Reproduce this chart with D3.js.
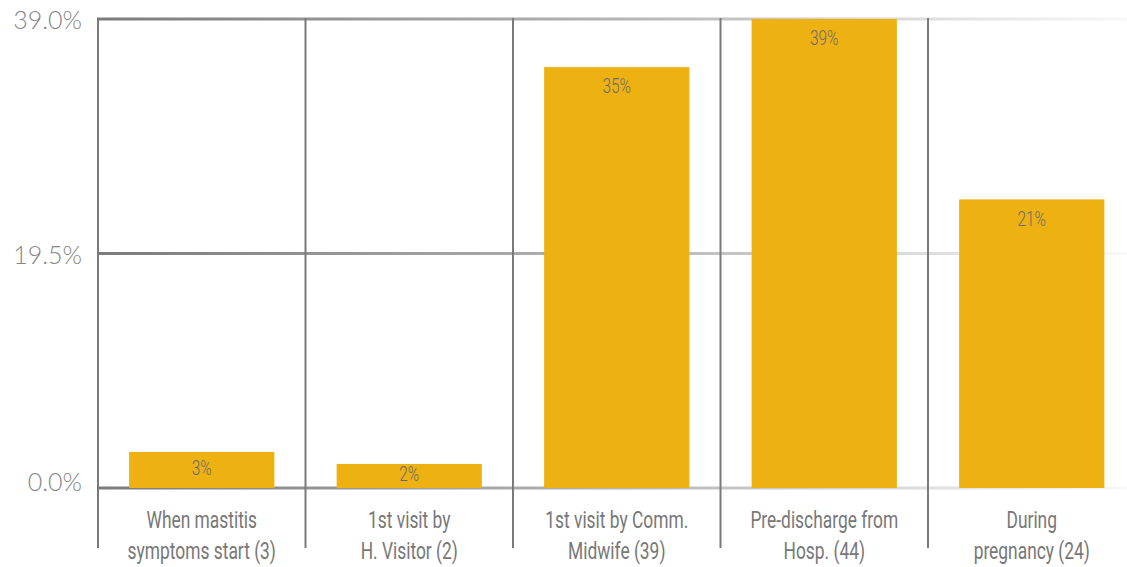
<!DOCTYPE html>
<html>
<head>
<meta charset="utf-8">
<script src="https://cdn.jsdelivr.net/npm/d3@7"></script>
<style>
  html, body { margin: 0; padding: 0; background: #fff; }
  svg { display: block; }
</style>
</head>
<body>
<svg id="chart" width="1127" height="567"></svg>
<script>
// ---- data ----
const categories = [
  "When mastitis\nsymptoms start (3)",
  "1st visit by\nH. Visitor (2)",
  "1st visit by Comm.\nMidwife (39)",
  "Pre-discharge from\nHosp. (44)",
  "During\npregnancy (24)"
];
const values = [3.0, 2.0, 35.0, 39.3, 24.0];
const valueLabels = ["3%", "2%", "35%", "39%", "21%"];
const yTicks = [0, 19.5, 39];
const yTickLabels = ["0.0%", "19.5%", "39.0%"];

(function () {
// ---- layout ----
const W = 1127, H = 567;
const plotLeft = 98, plotTop = 19, plotBottom = 488;
const step = 207.5;
const svg = d3.select("#chart");

const x = d3.scaleBand()
  .domain(categories)
  .range([plotLeft, plotLeft + step * categories.length])
  .paddingInner(0.3)
  .paddingOuter(0.15);

const y = d3.scaleLinear().domain([0, 39]).range([plotBottom, plotTop]).clamp(true);

// gradient for horizontal gridlines
const defs = svg.append("defs");
const grad = defs.append("linearGradient")
  .attr("id", "gridGrad")
  .attr("gradientUnits", "userSpaceOnUse")
  .attr("x1", plotLeft - 1).attr("x2", W).attr("y1", 0).attr("y2", 0);
grad.append("stop").attr("offset", 0).attr("stop-color", "#7b7b7b");
grad.append("stop").attr("offset", 0.5).attr("stop-color", "#b4b4b4");
grad.append("stop").attr("offset", 1).attr("stop-color", "#f8f8f8");

// horizontal gridlines
svg.append("g").selectAll("line").data(yTicks).join("line")
  .attr("x1", plotLeft - 1).attr("x2", W)
  .attr("y1", d => y(d)).attr("y2", d => y(d))
  .attr("stroke", "url(#gridGrad)")
  .attr("stroke-width", 3);

// vertical gridlines at band boundaries
const bandGap = x.step() * x.paddingInner() / 2;
svg.append("g").selectAll("line").data(categories).join("line")
  .attr("x1", d => x(d) - bandGap).attr("x2", d => x(d) - bandGap)
  .attr("y1", y(39) - 1).attr("y2", 548)
  .attr("stroke", "#7a7a7a")
  .attr("stroke-width", 2);

// bars
svg.append("g").selectAll("rect").data(values).join("rect")
  .attr("x", (d, i) => x(categories[i]))
  .attr("width", x.bandwidth())
  .attr("y", d => y(d))
  .attr("height", d => y(0) - y(d))
  .attr("fill", "#EDB111");

// value labels
svg.append("g").selectAll("text").data(values).join("text")
  .attr("transform", (d, i) => {
    const cx = x(categories[i]) + x.bandwidth() / 2;
    const h = y(0) - y(d);
    const cy = y(d) + Math.min(19, h / 2 - 2);
    return `translate(${cx},${cy}) scale(0.77,1)`;
  })
  .attr("text-anchor", "middle")
  .attr("dominant-baseline", "central")
  .attr("font-family", "Roboto, 'DejaVu Sans Condensed', sans-serif")
  .attr("font-weight", 300)
  .attr("font-size", 20)
  .attr("fill", "#6c6c6c")
  .text((d, i) => valueLabels[i]);

// y tick labels
svg.append("g").selectAll("text").data(yTicks).join("text")
  .attr("x", 82)
  .attr("y", d => y(d) - (d === 0 ? 7 : 0))
  .attr("text-anchor", "end")
  .attr("dominant-baseline", "central")
  .attr("font-family", "Lato, 'Open Sans', sans-serif")
  .attr("font-weight", 300)
  .attr("font-size", 25)
  .attr("fill", "#858585")
  .text((d, i) => yTickLabels[i]);

// category labels
const cat = svg.append("g").selectAll("g").data(categories).join("g")
  .attr("transform", d => `translate(${x(d) + x.bandwidth() / 2},0)`);
cat.each(function (d) {
  const lines = d.split("\n");
  const g = d3.select(this);
  lines.forEach((ln, k) => {
    g.append("text")
      .attr("transform", `translate(0,${528 + k * 31}) scale(0.74,1)`)
      .attr("text-anchor", "middle")
      .attr("font-family", "Roboto, 'DejaVu Sans Condensed', sans-serif")
      .attr("font-weight", 400)
      .attr("font-size", 23.5)
      .attr("fill", "#777777")
      .text(ln);
  });
});
})();
</script>
</body>
</html>
